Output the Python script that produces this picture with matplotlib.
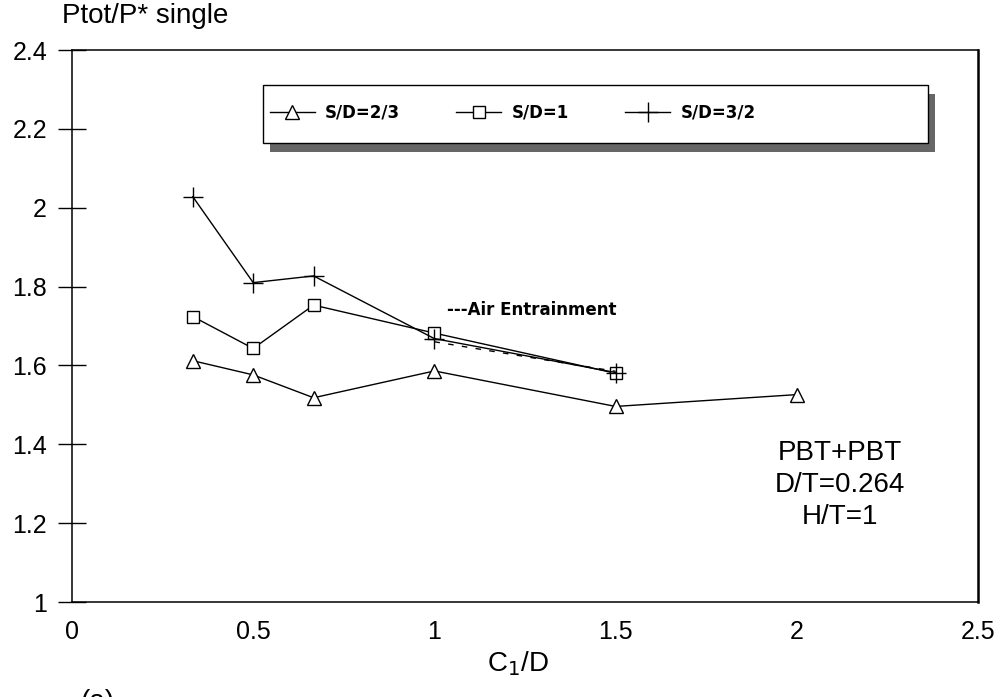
import numpy as np
import matplotlib
matplotlib.use("Agg")
from matplotlib import pyplot as plt
from matplotlib.patches import Rectangle

plt.rcParams['font.family'] = ['Liberation Sans', 'DejaVu Sans']

# C1/D values
x_23 = [1/3, 0.5, 2/3, 1.0, 1.5, 2.0]
y_23 = [1.612, 1.576, 1.518, 1.586, 1.496, 1.526]

x_1 = [1/3, 0.5, 2/3, 1.0, 1.5]
y_1 = [1.724, 1.643, 1.753, 1.682, 1.580]

x_32 = [1/3, 0.5, 2/3, 1.0, 1.5]
y_32 = [2.028, 1.810, 1.827, 1.668, 1.582]

# air entrainment branch
air_x = [1.0, 1.5]
air_y = [1.660, 1.585]

labels = ['S/D=2/3', 'S/D=1', 'S/D=3/2']
xticks = [0, 0.5, 1, 1.5, 2, 2.5]
xtick_labels = ['0', '0.5', '1', '1.5', '2', '2.5']
yticks = [1, 1.2, 1.4, 1.6, 1.8, 2, 2.2, 2.4]
ytick_labels = ['1', '1.2', '1.4', '1.6', '1.8', '2', '2.2', '2.4']

W, H = 1001, 697
fig = plt.figure(figsize=(W/100, H/100), dpi=100)
ax = fig.add_axes([72/W, 1-602/H, 906/W, 552/H])

l1, = ax.plot(x_23, y_23, color='black', lw=1.0, marker='^', ms=10,
              mfc='white', mec='black', mew=1, label=labels[0])
l2, = ax.plot(x_1, y_1, color='black', lw=1.0, marker='s', ms=9,
              mfc='white', mec='black', mew=1, label=labels[1])
l3, = ax.plot(x_32, y_32, color='black', lw=1.0, marker='+', ms=15,
              mec='black', mew=1, label=labels[2])
ax.plot(air_x, air_y, color='black', lw=1.0, ls=(0, (4, 6)))

ax.text(1.035, 1.74, '---Air Entrainment', fontsize=12, fontweight='bold',
        family=['DejaVu Sans'], va='center', ha='left')

ax.text(2.119, 1.297, 'PBT+PBT\nD/T=0.264\nH/T=1', fontsize=20,
        ha='center', va='center', linespacing=1.3)

ax.set_xlim(0, 2.5)
ax.set_ylim(1, 2.4)
ax.set_xticks(xticks)
ax.set_xticklabels(xtick_labels)
ax.set_yticks(yticks)
ax.set_yticklabels(ytick_labels)
ax.tick_params(axis='y', direction='inout', length=20, width=1,
               labelsize=18, pad=8)
ax.tick_params(axis='x', length=0, labelsize=18, pad=13)
for s in ['left', 'bottom', 'top']:
    ax.spines[s].set_linewidth(1.1)
ax.spines['right'].set_linewidth(1.8)

# legend box with drop shadow
bx0, bx1 = 0.2108, 0.9448
by0, by1 = 0.8315, 0.9366
ax.add_patch(Rectangle((bx0 + 0.0077, by0 - 0.0163), bx1 - bx0, by1 - by0,
                       transform=ax.transAxes, facecolor='0.4',
                       edgecolor='none', zorder=4))
ax.add_patch(Rectangle((bx0, by0), bx1 - bx0, by1 - by0,
                       transform=ax.transAxes, facecolor='white',
                       edgecolor='black', lw=1.0, zorder=5))
leg = ax.legend(handles=[l1, l2, l3], loc='center left',
                bbox_to_anchor=(0.2108, 0.886), ncol=3, borderaxespad=0,
                prop={'family': 'DejaVu Sans', 'weight': 'bold', 'size': 12},
                handlelength=2.7, handletextpad=0.6, columnspacing=3.4,
                frameon=False)
leg.set_zorder(6)

fig.text(62/W, 1-23/H, 'Ptot/P* single', fontsize=20, va='baseline', ha='left')
fig.text(518/W, 1-664/H, 'C$_{1}$/D', fontsize=20, ha='center', va='center')
fig.text(97/W, 1-689/H, '(a)', fontsize=20, ha='center', va='top')

fig.savefig('out.png', dpi=100)
